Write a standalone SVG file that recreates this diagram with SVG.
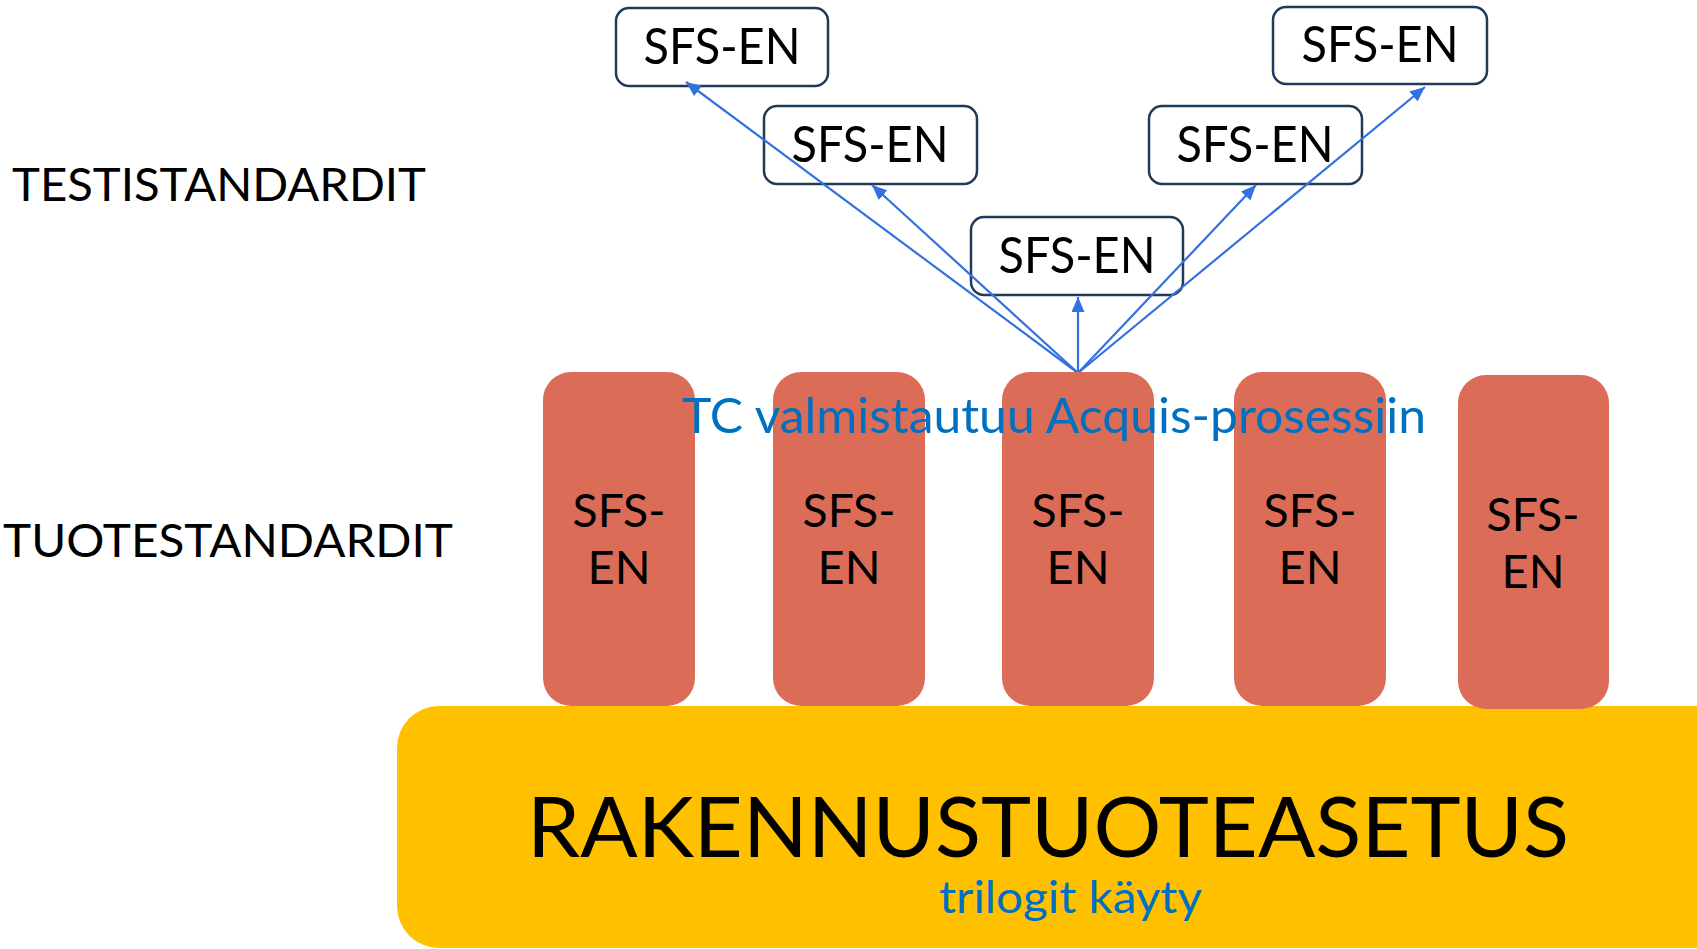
<svg xmlns="http://www.w3.org/2000/svg" width="1697" height="949" viewBox="0 0 1697 949">
<style>
.box{fill:#ffffff;stroke:#1f3b5a;stroke-width:2.5}
.pillar{fill:#da6c58}
.t{font-family:Lato,"Noto Sans","Liberation Sans",sans-serif;fill:#000000}
.blue{fill:#0070c0}
.conn{stroke:#3370e0;stroke-width:2.2;fill:none}
</style>
<defs>
<marker id="ah" viewBox="0 0 15 13" refX="15" refY="6.5" markerWidth="15" markerHeight="13" markerUnits="userSpaceOnUse" orient="auto">
<path d="M0,0 L15,6.5 L0,13 z" fill="#3370e0"/>
</marker>
</defs>
<rect x="0" y="0" width="1697" height="949" fill="#ffffff"/>

<g id="label-test"><text class="t" x="12" y="201" font-size="47" textLength="414" lengthAdjust="spacingAndGlyphs">TESTISTANDARDIT</text></g>
<g id="label-tuote"><text class="t" x="3" y="557" font-size="47" textLength="450" lengthAdjust="spacingAndGlyphs">TUOTESTANDARDIT</text></g>

<g id="test1"><rect class="box" x="616" y="8" width="212" height="78" rx="13"/><text class="t" x="722" y="64" font-size="50" text-anchor="middle" textLength="157" lengthAdjust="spacingAndGlyphs">SFS-EN</text></g>
<g id="test2"><rect class="box" x="764" y="106" width="213" height="78" rx="13"/><text class="t" x="870" y="162" font-size="50" text-anchor="middle" textLength="157" lengthAdjust="spacingAndGlyphs">SFS-EN</text></g>
<g id="test3"><rect class="box" x="971" y="217" width="212" height="78" rx="13"/><text class="t" x="1077" y="273" font-size="50" text-anchor="middle" textLength="157" lengthAdjust="spacingAndGlyphs">SFS-EN</text></g>
<g id="test4"><rect class="box" x="1149" y="106" width="213" height="78" rx="13"/><text class="t" x="1255" y="162" font-size="50" text-anchor="middle" textLength="157" lengthAdjust="spacingAndGlyphs">SFS-EN</text></g>
<g id="test5"><rect class="box" x="1273" y="7" width="214" height="77" rx="13"/><text class="t" x="1380" y="62" font-size="50" text-anchor="middle" textLength="157" lengthAdjust="spacingAndGlyphs">SFS-EN</text></g>

<g id="connectors">
<line class="conn" x1="1078" y1="373" x2="686" y2="82" marker-end="url(#ah)"/>
<line class="conn" x1="1078" y1="373" x2="872" y2="185" marker-end="url(#ah)"/>
<line class="conn" x1="1078" y1="373" x2="1078" y2="297" marker-end="url(#ah)"/>
<line class="conn" x1="1078" y1="373" x2="1256" y2="185" marker-end="url(#ah)"/>
<line class="conn" x1="1078" y1="373" x2="1425" y2="87" marker-end="url(#ah)"/>
</g>

<g id="base"><rect x="397" y="706" width="1340" height="242" rx="42" fill="#ffc000"/>
<text class="t" x="527" y="857" font-size="83" textLength="1042" lengthAdjust="spacingAndGlyphs">RAKENNUSTUOTEASETUS</text>
<text class="t blue" x="939" y="913" font-size="44" textLength="263" lengthAdjust="spacingAndGlyphs">trilogit käyty</text>
</g>

<g id="pillar1"><rect class="pillar" x="543" y="372" width="152" height="334" rx="28"/><text class="t" x="619" y="527" font-size="47" text-anchor="middle" textLength="93" lengthAdjust="spacingAndGlyphs">SFS-</text><text class="t" x="619" y="584" font-size="47" text-anchor="middle">EN</text></g>
<g id="pillar2"><rect class="pillar" x="773" y="372" width="152" height="334" rx="28"/><text class="t" x="849" y="527" font-size="47" text-anchor="middle" textLength="93" lengthAdjust="spacingAndGlyphs">SFS-</text><text class="t" x="849" y="584" font-size="47" text-anchor="middle">EN</text></g>
<g id="pillar3"><rect class="pillar" x="1002" y="372" width="152" height="334" rx="28"/><text class="t" x="1078" y="527" font-size="47" text-anchor="middle" textLength="93" lengthAdjust="spacingAndGlyphs">SFS-</text><text class="t" x="1078" y="584" font-size="47" text-anchor="middle">EN</text></g>
<g id="pillar4"><rect class="pillar" x="1234" y="372" width="152" height="334" rx="28"/><text class="t" x="1310" y="527" font-size="47" text-anchor="middle" textLength="93" lengthAdjust="spacingAndGlyphs">SFS-</text><text class="t" x="1310" y="584" font-size="47" text-anchor="middle">EN</text></g>
<g id="pillar5"><rect class="pillar" x="1458" y="375" width="151" height="334" rx="28"/><text class="t" x="1533" y="531" font-size="47" text-anchor="middle" textLength="93" lengthAdjust="spacingAndGlyphs">SFS-</text><text class="t" x="1533" y="588" font-size="47" text-anchor="middle">EN</text></g>

<g id="tc-label"><text class="t blue" x="682" y="433" font-size="48" textLength="744" lengthAdjust="spacingAndGlyphs">TC valmistautuu Acquis-prosessiin</text></g>
</svg>
